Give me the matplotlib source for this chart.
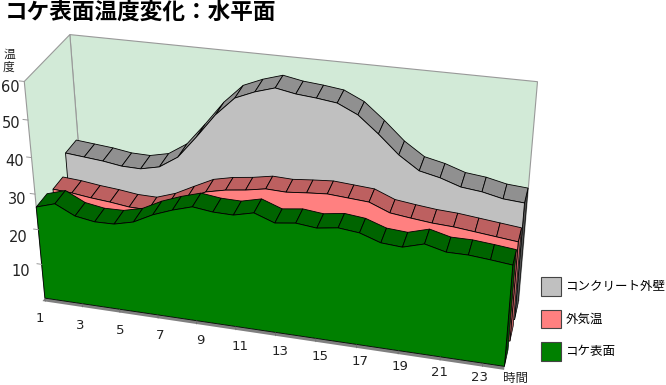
import numpy as np
import matplotlib
matplotlib.use("Agg")
import matplotlib.pyplot as plt
from matplotlib.patches import Patch

plt.rcParams['font.family'] = ['Noto Sans CJK JP', 'DejaVu Sans']

hours = list(range(1, 25))
moss = [26.4, 28.0, 25.3, 24.4, 24.5, 25.8, 28.5, 30.5, 32.1, 31.4, 31.3, 32.6,
        30.6, 31.3, 30.7, 31.5, 30.9, 29.0, 28.6, 30.2, 28.8, 28.8, 28.3, 27.7]
air = [25.7, 25.3, 24.6, 24.1, 23.4, 23.3, 25.1, 27.8, 30.4, 31.6, 32.3, 33.3,
       33.1, 33.6, 34.0, 33.6, 33.2, 31.0, 30.3, 29.7, 29.4, 28.8, 28.2, 27.6]
wall = [31.1, 30.6, 30.1, 29.3, 29.2, 30.4, 33.8, 40.0, 46.6, 51.7, 53.9, 55.5,
        54.5, 54.0, 53.3, 50.8, 46.4, 41.5, 37.9, 36.7, 34.9, 34.3, 33.1, 32.7]
series_names = ['コンクリート外壁', '外気温', 'コケ表面']
y_ticks = [10, 20, 30, 40, 50, 60]
x_ticks = list(range(1, 24, 2))

# camera: fit a pinhole projection (x, y, z) -> pixel from the box corners
world = np.array([[0, 0, 0], [0, 60, 0], [23, 0, 0], [23, 60, 0],
                  [0, 0, 1], [0, 60, 1], [23, 0, 1], [23, 60, 1]], float)
pix = np.array([[45, 300], [24, 83], [505, 365], [523, 134],
                [86, 239], [70, 34], [518, 303], [538, 83]], float)
A, b = [], []
for (X, Y, Z), (u, v) in zip(world, pix):
    A.append([X, Y, Z, 1, 0, 0, 0, 0, -u * X, -u * Y, -u * Z]); b.append(u)
    A.append([0, 0, 0, 0, X, Y, Z, 1, -v * X, -v * Y, -v * Z]); b.append(v)
M = np.append(np.linalg.lstsq(np.array(A), np.array(b), rcond=None)[0], 1).reshape(3, 4)


def proj(x, y, z):
    x, y, z = np.broadcast_arrays(np.asarray(x, float), np.asarray(y, float), np.asarray(z, float))
    h = M @ np.vstack([x.ravel(), y.ravel(), z.ravel(), np.ones(x.size)])
    return h[0] / h[2], h[1] / h[2]


fig = plt.figure(figsize=(6.66, 3.85), dpi=100)
ax = fig.add_axes([0, 0, 1, 1])
ax.set_xlim(0, 666)
ax.set_ylim(385, 0)
ax.axis('off')

WALLC = '#D2EAD7'
GRID = '#999999'
# walls
ax.fill(*proj([0, 0, 23, 23], [0, 60, 60, 0], 1), fc=WALLC, ec=GRID, lw=0.8)
ax.fill(*proj(0, [0, 60, 60, 0], [0, 0, 1, 1]), fc=WALLC, ec=GRID, lw=0.8)
# floor slab edge
ax.fill(*proj([-0.15, 23, 23, 0], [-1, -1, 0, 0], 0), fc='#808080', ec='none')
for t in hours[::2]:
    ax.plot(*proj([t - 1, t - 1], [-1, 0], 0), color='#666666', lw=0.4)
# y ticks
for t in y_ticks:
    ax.plot(*proj([-0.25, 0], [t, t], 0), color=GRID, lw=0.7)

x = np.arange(24, dtype=float)
styles = [(wall, 0.70, 0.96, '#C0C0C0', '#909090', '#505050'),
          (air, 0.37, 0.60, '#FF8080', '#BD6060', '#BD6060'),
          (moss, 0.0, 0.24, '#008000', '#006400', '#004B00')]
for vals, z0, z1, front, top, side in styles:
    vals = np.array(vals)
    ax.fill(*proj(23, [0, vals[-1], vals[-1], 0], [z0, z0, z1, z1]),
            fc=side, ec='black', lw=0.5)
    for i in range(23):
        ax.fill(*proj([x[i], x[i + 1], x[i + 1], x[i]],
                      [vals[i], vals[i + 1], vals[i + 1], vals[i]],
                      [z0, z0, z1, z1]), fc=top, ec='black', lw=0.6)
    fx = np.r_[x, 23, 0]
    fy = np.r_[vals, 0, 0]
    ax.fill(*proj(fx, fy, z0), fc=front, ec='black', lw=0.6)

TXT = '#222222'
ax.text(5, 12, 'コケ表面温度変化：水平面', fontsize=16.3, fontweight='bold',
        ha='left', va='center', color='black')
ax.text(9, 54, '温', fontsize=8.5, ha='center', va='center', color=TXT)
ax.text(9, 67, '度', fontsize=8.5, ha='center', va='center', color=TXT)
for t, px, py in zip(y_ticks, [30, 28, 26, 24, 20, 20], [272, 237, 200, 161, 124, 88]):
    ax.text(px, py, str(t), fontsize=10.5, ha='right', va='center', color=TXT,
            family='DejaVu Sans')
for t in x_ticks:
    ax.text(40 + (t - 1) * 20, 320 + (t - 1) * 2.6 if t > 1 else 319, str(t),
            fontsize=9.5, ha='center', va='center', color=TXT, family='DejaVu Sans')
ax.text(515, 378, '時間', fontsize=9, ha='center', va='center', color=TXT)

handles = [Patch(fc=c, ec='#444444', lw=0.8, label=n)
           for c, n in zip(['#C0C0C0', '#FF8080', '#008000'], series_names)]
ax.legend(handles=handles, loc='upper left', bbox_to_anchor=(541, 277),
          bbox_transform=ax.transData, frameon=False, fontsize=9, borderpad=0,
          borderaxespad=0, handlelength=1.6, handleheight=1.9, labelspacing=1.12,
          handletextpad=0.35)
fig.savefig('out.png', dpi=100)
